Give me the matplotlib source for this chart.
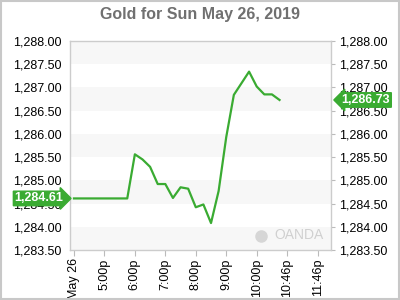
"""
Gold price for Sun May 26, 2019 (OANDA style chart)
"""

import matplotlib
matplotlib.use('Agg')
import matplotlib.pyplot as plt
from matplotlib.patches import Rectangle
from matplotlib.ticker import FuncFormatter
import matplotlib.transforms as mtransforms

# hours after 4:00p
hours = [0.0, 1.75, 2.0, 2.25, 2.5, 2.75, 3.0, 3.25, 3.5, 3.75, 4.0, 4.25,
         4.5, 4.75, 5.0, 5.25, 5.75, 6.0, 6.25, 6.5, 6.75]
price = [1284.61, 1284.61, 1285.56, 1285.45, 1285.29, 1284.92, 1284.92, 1284.62,
         1284.85, 1284.82, 1284.42, 1284.48, 1284.08, 1284.77, 1285.93, 1286.84,
         1287.34, 1287.02, 1286.85, 1286.85, 1286.73]

tick_pos = [0, 1, 2, 3, 4, 5, 6, 7, 8]
tick_labels = ['May 26', '5:00p', '6:00p', '7:00p', '8:00p', '9:00p',
               '10:00p', '10:46p', '11:46p']
y_ticks = [1283.5, 1284.0, 1284.5, 1285.0, 1285.5, 1286.0, 1286.5,
           1287.0, 1287.5, 1288.0]

first_val = 1284.61
last_val = 1286.73

green = '#3aab32'
plt.rcParams['font.family'] = ['Liberation Sans', 'DejaVu Sans']

fig = plt.figure(figsize=(4, 3), dpi=100)
ax = fig.add_axes([0.175, 0.1667, 0.6525, 0.6967])

# alternating bands
for i in range(0, len(y_ticks) - 1, 2):
    ax.axhspan(y_ticks[i], y_ticks[i + 1], color='#f7f7f7', lw=0, zorder=0)

ax.plot(hours, price, color=green, lw=1.6, zorder=3)

ax.set_xlim(-0.13, 8.44)
ax.set_ylim(1283.5, 1288.0)
ax.set_yticks(y_ticks)
ax.yaxis.set_major_formatter(FuncFormatter(lambda v, p: f'{v:,.2f}'))
ax.set_xticks(tick_pos, labels=tick_labels, rotation=90)

ax.tick_params(axis='y', left=False, right=True, labelleft=True, labelright=True,
               length=3, color='#bbbbbb', labelsize=9, pad=3)
ax.tick_params(axis='x', length=4, color='#bbbbbb', labelsize=9, pad=2)
for s in ax.spines.values():
    s.set_color('#cccccc')
    s.set_linewidth(1)

fig.suptitle('Gold for Sun May 26, 2019', x=0.5, y=0.975, fontsize=11.5,
             fontweight='bold', color='#707070')

# value badges
trans = mtransforms.blended_transform_factory(ax.transAxes, ax.transData)
ax.text(-0.025, first_val, '1,284.61', transform=trans, ha='right', va='center',
        color='white', fontsize=9, fontweight='bold', zorder=5, clip_on=False,
        bbox=dict(boxstyle='rarrow,pad=0.1', fc=green, ec=green))
ax.text(1.04, last_val, '1,286.73', transform=trans, ha='left', va='center',
        color='white', fontsize=9, fontweight='bold', zorder=5, clip_on=False,
        bbox=dict(boxstyle='larrow,pad=0.1', fc=green, ec=green))

# watermark
ax.text(0.97, 0.04, 'OANDA', transform=ax.transAxes, ha='right', va='bottom',
        fontsize=10, color='#d0d0d0')
ax.plot([0.73], [0.065], transform=ax.transAxes, marker='o', ms=8,
        color='#d6d6d6', clip_on=False)

fig.patches.append(Rectangle((0.002, 0.003), 0.995, 0.994, transform=fig.transFigure,
                             fill=False, ec='#c8c8c8', lw=1.5))

fig.savefig('out.png', dpi=100)
